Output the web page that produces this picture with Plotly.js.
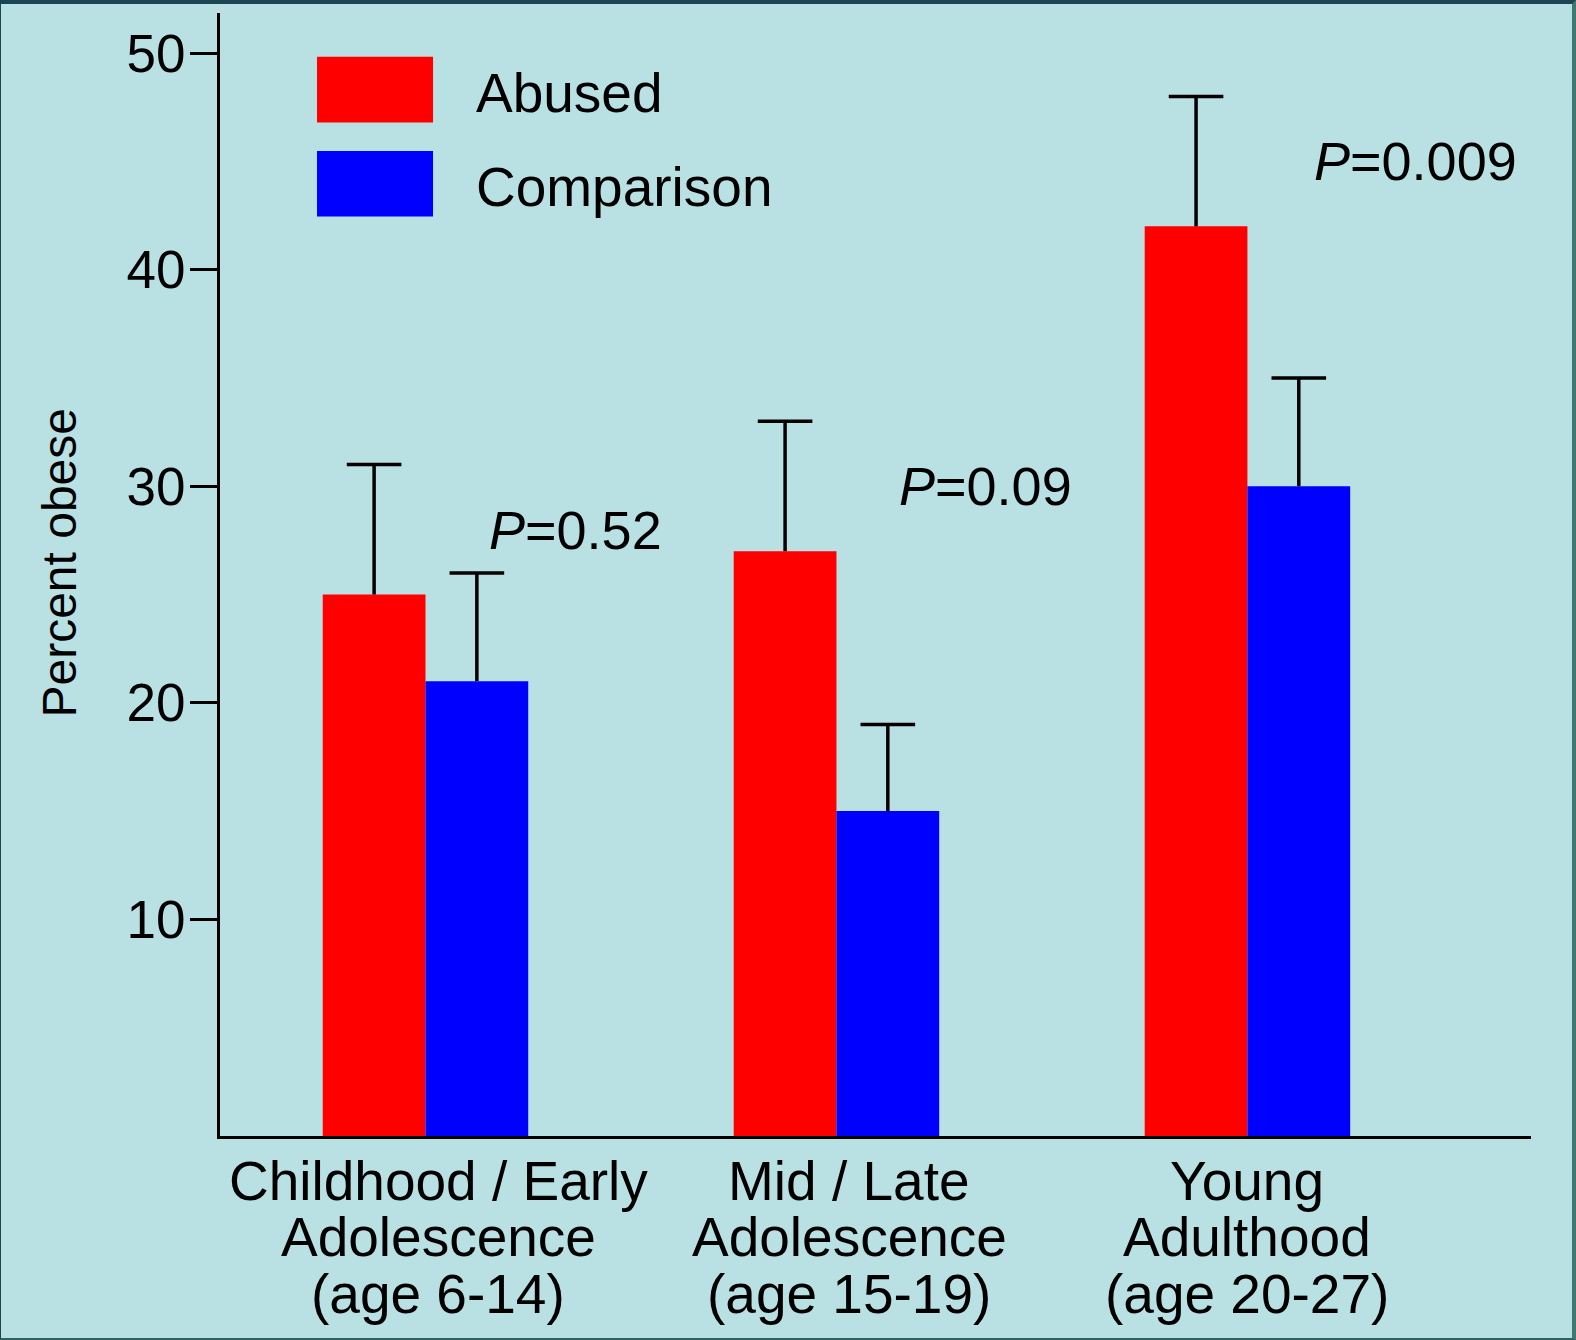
<!DOCTYPE html>
<html>
<head>
<meta charset="utf-8">
<script src="https://cdn.plot.ly/plotly-3.0.1.min.js"></script>
<style>
  html, body { margin: 0; padding: 0; background: #b9e0e3; }
  #wrap { position: relative; width: 1576px; height: 1340px; }
  #chart { position: absolute; left: 0; top: 0; width: 1576px; height: 1340px; }
  #frame {
    position: absolute; left: 0; top: 0; width: 1576px; height: 1340px;
    box-sizing: border-box; border-style: solid;
    border-width: 4px 4px 2px 1px;
    border-color: #1b4651 #3d7b70 #2d6461 #1b4651;
    pointer-events: none;
  }
</style>
</head>
<body>
<div id="wrap"><div id="chart"></div><div id="frame"></div></div>
<script>
// Obesity prevalence by developmental stage
const categories = [
  'Childhood / Early Adolescence (age 6-14)',
  'Mid / Late Adolescence (age 15-19)',
  'Young Adulthood (age 20-27)'
];
const categoryLines = [
  ['Childhood / Early', 'Adolescence', '(age 6-14)'],
  ['Mid / Late', 'Adolescence', '(age 15-19)'],
  ['Young', 'Adulthood', '(age 20-27)']
];
const seriesNames = ['Abused', 'Comparison'];
const abused = [25, 27, 42];
const abusedErr = [6, 6, 6];
const comparison = [21, 15, 30];
const comparisonErr = [5, 4, 5];
const pValues = ['0.52', '0.09', '0.009'];
const yTicks = [10, 20, 30, 40, 50];

const FONT = 'Liberation Sans, Arial, Helvetica, sans-serif';
const RED = '#ff0000';
const BLUE = '#0000ff';
const ERR_W = 3.5;

// Upper error stem only (the cap is drawn separately so no cap sits on the bar top)
function errStem(vals) {
  return {
    type: 'data', symmetric: false, array: vals,
    arrayminus: vals.map(() => 0),
    color: '#000000', thickness: ERR_W, width: 0
  };
}

function barTrace(name, vals, errs, color, group) {
  return {
    type: 'bar', name: name, x: categories, y: vals,
    offsetgroup: group, alignmentgroup: 'g',
    marker: { color: color, line: { width: 0 } }, error_y: errStem(errs)
  };
}

function capTrace(name, vals, errs, group) {
  return {
    type: 'scatter', mode: 'markers', name: name + ' cap',
    x: categories, y: vals.map((v, i) => v + errs[i]),
    offsetgroup: group, alignmentgroup: 'g', orientation: 'v',
    marker: { symbol: 'line-ew', size: 39, color: '#000',
              line: { color: '#000', width: ERR_W } },
    showlegend: false, hoverinfo: 'skip', cliponaxis: false
  };
}

const traces = [
  barTrace(seriesNames[0], abused, abusedErr, RED, 'a'),
  barTrace(seriesNames[1], comparison, comparisonErr, BLUE, 'b'),
  capTrace(seriesNames[0], abused, abusedErr, 'a'),
  capTrace(seriesNames[1], comparison, comparisonErr, 'b')
];

const annotations = [];

// Multi-line category labels under the axis
const labelShift = [13, 13, 0];
const lineOffsets = [-45, -101, -158];
categoryLines.forEach((lines, i) => {
  lines.forEach((txt, j) => {
    annotations.push({
      xref: 'x', yref: 'paper', x: categories[i], y: 0,
      xshift: labelShift[i], yshift: lineOffsets[j],
      xanchor: 'center', yanchor: 'middle', showarrow: false,
      text: txt, font: { family: FONT, size: 55, color: '#000' }
    });
  });
});

// P-value labels beside each pair of bars
const pPos = [[0.365, 28], [1.363, 30], [2.41, 45]];
pValues.forEach((p, i) => {
  annotations.push({
    xref: 'x', yref: 'y', x: pPos[i][0], y: pPos[i][1],
    xanchor: 'center', yanchor: 'middle', showarrow: false,
    text: '<i>P</i>=' + p, font: { family: FONT, size: 54, color: '#000' }
  });
});

// Legend text
const legendY = [0.9288, 0.8455];
seriesNames.forEach((n, i) => {
  annotations.push({
    xref: 'paper', yref: 'paper', x: 0.1935, y: legendY[i],
    xanchor: 'left', yanchor: 'middle', showarrow: false,
    text: n, font: { family: FONT, size: 55, color: '#000' }
  });
});

// Y-axis title
annotations.push({
  xref: 'paper', yref: 'paper', x: -0.1225, y: 0.511,
  xanchor: 'center', yanchor: 'middle', showarrow: false, textangle: -90,
  text: 'Percent obese', font: { family: FONT, size: 48, color: '#000' }
});

// Legend swatches
const shapes = [
  { type: 'rect', xref: 'paper', yref: 'paper', x0: 0.074, x1: 0.1625, y0: 0.9024, y1: 0.9611,
    fillcolor: RED, line: { width: 0 } },
  { type: 'rect', xref: 'paper', yref: 'paper', x0: 0.074, x1: 0.1625, y0: 0.8187, y1: 0.8771,
    fillcolor: BLUE, line: { width: 0 } }
];

const layout = {
  width: 1576, height: 1340,
  margin: { l: 220, r: 45, t: 13, b: 204, pad: 0 },
  paper_bgcolor: '#b9e0e3', plot_bgcolor: '#b9e0e3',
  showlegend: false,
  barmode: 'group', bargap: 0.5, bargroupgap: 0,
  scattermode: 'group', scattergap: 0.5,
  font: { family: FONT, color: '#000' },
  xaxis: {
    type: 'category', range: [-0.5, 2.69],
    showticklabels: false, ticks: '', showgrid: false, zeroline: false,
    showline: true, linecolor: '#000', linewidth: 3
  },
  yaxis: {
    range: [0, 51.85], tickmode: 'array', tickvals: yTicks,
    ticks: 'outside', ticklen: 27, tickwidth: 3, tickcolor: '#000',
    tickfont: { family: FONT, size: 53, color: '#000' },
    ticklabelstandoff: -6,
    showgrid: false, zeroline: false,
    showline: true, linecolor: '#000', linewidth: 3
  },
  annotations: annotations,
  shapes: shapes
};

Plotly.newPlot('chart', traces, layout, { displayModeBar: false, staticPlot: true });
</script>
</body>
</html>
